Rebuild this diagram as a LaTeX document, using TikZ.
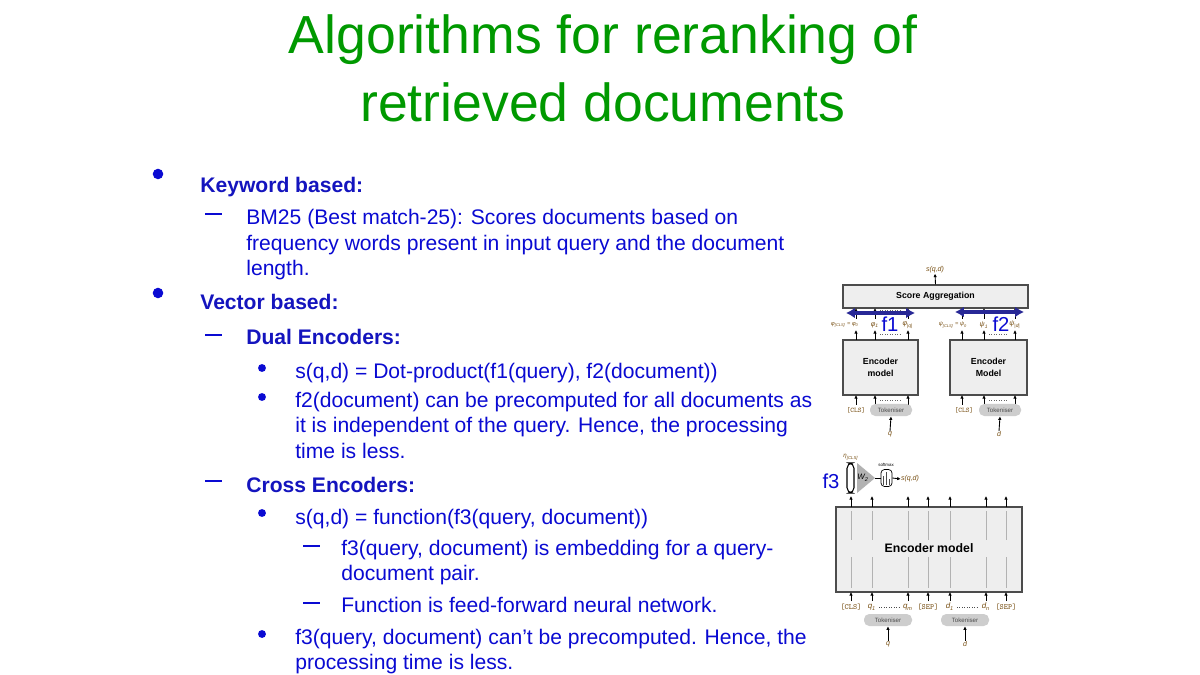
\documentclass[tikz,border=0pt]{standalone}
\usepackage{fontspec}
\setmainfont{Liberation Sans}
\usetikzlibrary{arrows.meta}
\definecolor{tgreen}{RGB}{0,153,0}
\definecolor{tblue}{RGB}{10,10,210}
\definecolor{hblue}{RGB}{20,20,190}
\definecolor{boxg}{RGB}{238,238,238}
\definecolor{tokg}{RGB}{205,205,205}
\definecolor{arrb}{RGB}{40,40,150}
\definecolor{lab}{RGB}{120,80,20}
\newcommand{\sbs}[1]{\textsubscript{#1}}
\begin{document}
\begin{tikzpicture}[x=0.02cm,y=-0.02cm,
  title/.style={text=tgreen,font=\fontsize{30.5}{33}\selectfont},
  body/.style={text=tblue,anchor=base west,yshift=-0.15cm,font=\fontsize{12}{13}\selectfont,inner sep=0},
  head/.style={text=hblue,anchor=base west,yshift=-0.15cm,font=\fontsize{12}{13}\selectfont\bfseries,inner sep=0},
  bul/.style={circle,fill=tblue,inner sep=0,minimum size=6pt},
  bul2/.style={circle,fill=tblue,inner sep=0,minimum size=4.5pt},
  dsh/.style={draw=tblue,line width=1.2pt},
  gbox/.style={draw=black!70,fill=boxg,line width=0.6pt},
  tok/.style={fill=tokg,rounded corners=3pt,font=\fontsize{3.5}{4}\selectfont,inner sep=0,text=black!70},
  sm/.style={font=\fontsize{4}{5}\selectfont\itshape,inner sep=0,text=lab},
  ar/.style={-{Latex[length=2pt,width=2pt]},line width=0.5pt},
  bigar/.style={{Latex[length=5pt,width=6pt]}-{Latex[length=5pt,width=6pt]},line width=2pt,draw=arrb},
  bl/.style={text=tblue,font=\fontsize{11.5}{12}\selectfont,inner sep=0},
  vl/.style={draw=black!30,line width=0.5pt}]
\useasboundingbox (0,0) rectangle (1200,675);
\fill[white] (0,0) rectangle (1200,675);
\node[title] (t1) at (603,40) {Algorithms for reranking of};
\node[title] (t2) at (603,102) {retrieved documents};
% text
\node[bul] (b1) at (158,174) {};
\node[head] (h1) at (200,185) {Keyword based:};
\draw[dsh] (205,214) -- (222,214);
\node[body] (x1) at (246,217) {BM25 (Best match-25): Scores documents based on};
\node[body] (x2) at (246,243) {frequency words present in input query and the document};
\node[body] (x3) at (246,268) {length.};
\node[bul] (b2) at (158,293) {};
\node[head] (h2) at (200,302) {Vector based:};
\draw[dsh] (205,335) -- (222,335);
\node[head] (h3) at (246,337) {Dual Encoders:};
\node[bul2] (b3) at (262,368) {};
\node[body] (x4) at (295,371) {s(q,d) = Dot-product(f1(query), f2(document))};
\node[bul2] (b4) at (262,397) {};
\node[body] (x5) at (295,400) {f2(document) can be precomputed for all documents as};
\node[body] (x6) at (295,425) {it is independent of the query. Hence, the processing};
\node[body] (x7) at (295,451) {time is less.};
\draw[dsh] (205,481) -- (222,481);
\node[head] (h4) at (246,485) {Cross Encoders:};
\node[bul2] (b5) at (262,513) {};
\node[body] (x8) at (295,517) {s(q,d) = function(f3(query, document))};
\draw[dsh] (303,546) -- (320,546);
\node[body] (x9) at (341,548) {f3(query, document) is embedding for a query-};
\node[body] (x10) at (341,573) {document pair.};
\draw[dsh] (303,603) -- (320,603);
\node[body] (x11) at (341,605) {Function is feed-forward neural network.};
\node[bul2] (b6) at (262,634) {};
\node[body] (x12) at (295,637) {f3(query, document) can't be precomputed. Hence, the};
\node[body] (x13) at (295,662) {processing time is less.};
% dual encoder diagram
\node[gbox,minimum width=185*0.02cm,minimum height=23*0.02cm,font=\fontsize{5}{6}\selectfont\bfseries] (sa) at (935.5,296.5) {Score Aggregation};
\node[sm] (sqd) at (935,270) {s(q,d)};
\draw[ar] (sa.north) -- (sqd.south);
\node[gbox,minimum width=75*0.02cm,minimum height=55*0.02cm,align=center,font=\fontsize{5}{7}\selectfont\bfseries] (e1) at (880.5,367.5) {Encoder\\model};
\node[gbox,minimum width=77*0.02cm,minimum height=55*0.02cm,align=center,font=\fontsize{5}{7}\selectfont\bfseries] (e2) at (988.5,367.5) {Encoder\\Model};
\foreach \n/\x in {a/856,b/875,c/908,d/962,e/984,f/1015}{
  \coordinate (u\n) at (\x,330); \coordinate (v\n) at (\x,319);
  \coordinate (w\n) at (\x,405);
  \draw[ar] (\x,340) -- (u\n);
  \draw[ar] (v\n) -- (\x,308);
  \draw[ar] (w\n) -- (\x,395);
}
\node[sm,font=\fontsize{3.2}{4}\selectfont\itshape] (p0) at (845,325) {φ\sbs{[CLS]} = φ\sbs{0}};
\node[sm] (p1) at (875,325) {φ\sbs{1}};
\node[sm] (p2) at (908,325) {φ\sbs{|q|}};
\node[sm,font=\fontsize{3.2}{4}\selectfont\itshape] (r0) at (953,325) {ψ\sbs{[CLS]} = ψ\sbs{0}};
\node[sm] (r1) at (984,325) {ψ\sbs{1}};
\node[sm] (r2) at (1015,325) {ψ\sbs{|d|}};
\draw[densely dotted,black!60] (880,310) -- (900,310) (880,334) -- (900,334) (880,400) -- (900,400);
\draw[densely dotted,black!60] (989,310) -- (1008,310) (989,334) -- (1008,334) (989,400) -- (1008,400);
\draw[bigar] (846,313) -- (915,313);
\draw[bigar] (955,312) -- (1024,312);
\node[bl] (f1) at (890,324) {f1};
\node[bl] (f2) at (1001,324) {f2};
\node[sm,font=\fontsize{4}{5}\selectfont\ttfamily,text=lab] (c1) at (856,410) {[CLS]};
\node[tok,minimum width=42*0.02cm,minimum height=12*0.02cm] (k1) at (891,410) {Tokeniser};
\node[sm,font=\fontsize{4}{5}\selectfont\ttfamily,text=lab] (c2) at (964,410) {[CLS]};
\node[tok,minimum width=42*0.02cm,minimum height=12*0.02cm] (k2) at (1000,410) {Tokeniser};
\node[sm] (q1) at (890,434) {q};
\node[sm] (dd1) at (999,434) {d};
\draw[ar] (q1.north) -- (k1.south);
\draw[ar] (dd1.north) -- (k2.south);
% cross encoder
\node[gbox,minimum width=186*0.02cm,minimum height=85*0.02cm] (ce) at (929,549.5) {};
\foreach \x in {851,872,908,928,950,986,1006}{
  \draw[vl] (\x,511) -- (\x,540); \draw[vl] (\x,557) -- (\x,588);
  \draw[ar] (\x,507) -- (\x,496);
  \draw[ar] (\x,601) -- (\x,592);
}
\node[font=\fontsize{7}{8}\selectfont\bfseries,fill=boxg,inner sep=1pt] (cet) at (929,548) {Encoder model};
\foreach \n/\x/\t in {l1/851/{\ttfamily [CLS]},l2/872/{\itshape q\sbs{1}},l3/908/{\itshape q\sbs{m}},l4/928/{\ttfamily [SEP]},l5/950/{\itshape d\sbs{1}},l6/986/{\itshape d\sbs{n}},l7/1006/{\ttfamily [SEP]}}
  \node[sm,font=\fontsize{4.5}{5}\selectfont] (\n) at (\x,607) {\t};
\draw[densely dotted,black!70] (879,607) -- (901,607) (957,607) -- (979,607);
\node[tok,minimum width=48*0.02cm,minimum height=12*0.02cm] (k3) at (888,620) {Tokeniser};
\node[tok,minimum width=48*0.02cm,minimum height=12*0.02cm] (k4) at (965,620) {Tokeniser};
\node[sm] (q2) at (888,644) {q};
\node[sm] (dd2) at (965,644) {d};
\draw[ar] (q2.north) -- (k3.south);
\draw[ar] (dd2.north) -- (k4.south);
\node[sm,font=\fontsize{3.5}{4}\selectfont\itshape] (eta) at (851,457) {η\sbs{[CLS]}};
\draw[black,line width=0.6pt,rounded corners=3pt,fill=white] (847,463) rectangle (854,493);
\fill[black!30] (857,463) -- (875,478) -- (857,493) -- cycle;
\node[sm,text=black,font=\fontsize{4.5}{5}\selectfont\itshape] (w2) at (863,478) {W\sbs{2}};
\node[draw,rounded corners=2pt,minimum width=11*0.02cm,minimum height=17*0.02cm,inner sep=0] (smx) at (886.5,478) {};
\draw[black!70,line width=0.4pt] (883,485) -- (883,476) (886,485) -- (886,472) (889,485) -- (889,479);
\node[sm,text=black,font=\fontsize{2.5}{3}\selectfont] (smt) at (886,465) {softmax};
\draw[line width=0.5pt] (875,478) -- (smx.west);
\node[sm] (sqd2) at (910,479) {s(q,d)};
\draw[ar] (smx.east) -- (sqd2.west);
\node[bl] (f3) at (831,481) {f3};
\end{tikzpicture}
\end{document}
